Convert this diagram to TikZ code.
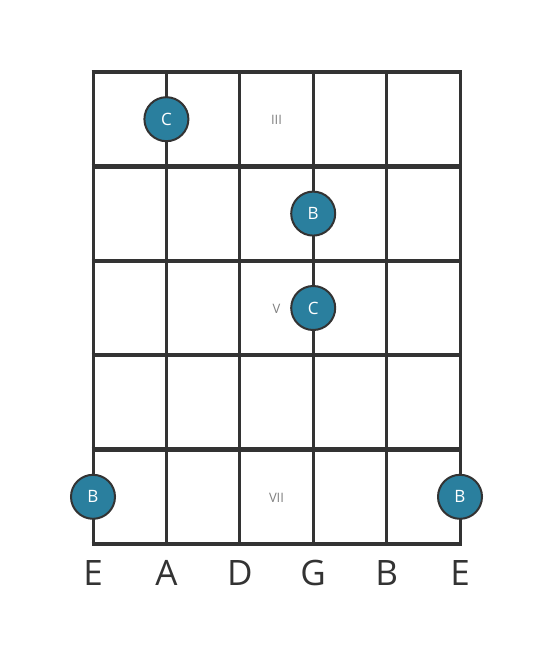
\documentclass[tikz,border=0pt]{standalone}
\usepackage{fontspec}
\setmainfont{Open Sans}
\definecolor{dotfill}{HTML}{2A7F9E}
\definecolor{linec}{HTML}{333333}
\definecolor{numc}{HTML}{808080}
\begin{document}
\begin{tikzpicture}[x=1pt,y=-1pt,
  fret/.style={draw=linec,line width=4.5pt},
  str/.style={draw=linec,line width=3pt},
  notedot/.style={circle,fill=dotfill,draw=linec,line width=2pt,minimum size=44pt,inner sep=0pt,text=white,font=\fontsize{17}{17}\selectfont},
  roman/.style={text=numc,font=\fontsize{13}{13}\selectfont,inner sep=0pt},
  strname/.style={text=linec,font=\fontsize{35}{35}\selectfont,inner sep=0pt}]
\useasboundingbox (0,0) rectangle (553,656);
% string positions
\foreach \i/\x in {1/93,2/166.4,3/239.8,4/313.2,5/386.6,6/460}{
  \coordinate (t\i) at (\x,72);
  \coordinate (b\i) at (\x,544);
  \draw[str] (t\i) -- (b\i);
}
\foreach \j/\y in {0/72,1/166.4,2/260.8,3/355.2,4/449.6,5/544}{
  \coordinate (l\j) at (91.5,\y);
  \coordinate (r\j) at (461.5,\y);
  \draw[fret] (l\j) -- (r\j);
}
\node[roman] (n3) at (276.5,120) {III};
\node[roman] (n5) at (276.5,309) {V};
\node[roman] (n7) at (276.5,497.5) {VII};
\node[notedot] (d1) at (166.4,119.2) {C};
\node[notedot] (d2) at (313.2,213.6) {B};
\node[notedot] (d3) at (313.2,308) {C};
\node[notedot] (d4) at (93,496.8) {B};
\node[notedot] (d5) at (460,496.8) {B};
\foreach \i/\x/\s in {1/93/E,2/166.4/A,3/239.8/D,4/313.2/G,5/386.6/B,6/460/E}{
  \node[strname,anchor=base] (s\i) at (\x,585) {\s};
}
\end{tikzpicture}
\end{document}
